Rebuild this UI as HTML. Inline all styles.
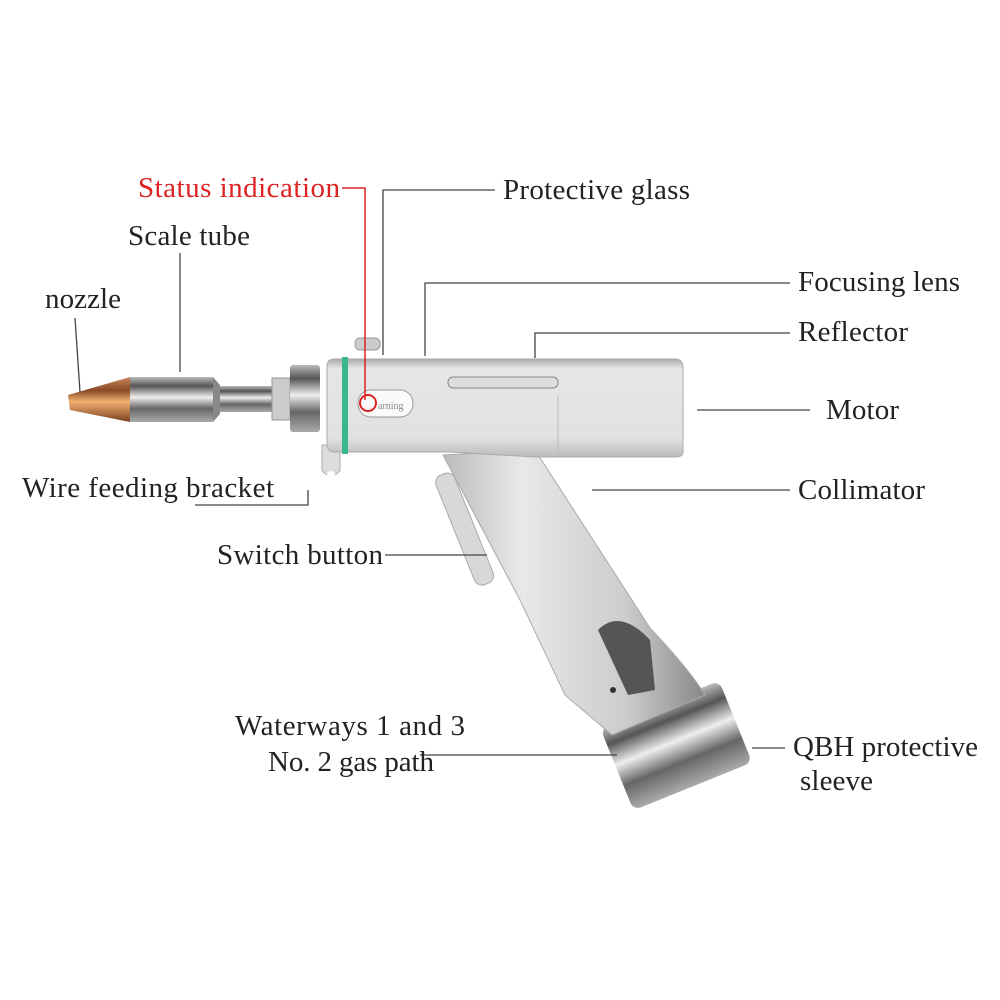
<!DOCTYPE html>
<html><head><meta charset="utf-8"><style>
body{margin:0;background:#fff;}
svg{display:block}
text{font-family:"Liberation Serif",serif;font-size:29px;fill:#222}
</style></head><body>
<svg width="1000" height="1000" viewBox="0 0 1000 1000">
<defs>
<linearGradient id="cyl" x1="0" y1="0" x2="0" y2="1">
<stop offset="0" stop-color="#bbb"/><stop offset=".2" stop-color="#555"/><stop offset=".45" stop-color="#eee"/><stop offset=".7" stop-color="#666"/><stop offset="1" stop-color="#aaa"/></linearGradient>
<linearGradient id="cu" x1="0" y1="0" x2="0" y2="1">
<stop offset="0" stop-color="#c9855a"/><stop offset=".3" stop-color="#8a4a25"/><stop offset=".55" stop-color="#f0b070"/><stop offset="1" stop-color="#7a3f20"/></linearGradient>
<linearGradient id="body" x1="0" y1="0" x2="0" y2="1">
<stop offset="0" stop-color="#aaa"/><stop offset=".1" stop-color="#e6e6e6"/><stop offset=".8" stop-color="#e2e2e2"/><stop offset="1" stop-color="#bbb"/></linearGradient>
<linearGradient id="hand" x1="0" y1="0" x2="1" y2="0">
<stop offset="0" stop-color="#bbb"/><stop offset=".3" stop-color="#e8e8e8"/><stop offset=".7" stop-color="#ccc"/><stop offset="1" stop-color="#888"/></linearGradient>
</defs>
<path d="M68,395 L130,377 L130,422 L70,410 Z" fill="url(#cu)"/>
<rect x="130" y="377" width="83" height="45" fill="url(#cyl)"/>
<path d="M213,377 L220,385 L220,414 L213,422Z" fill="#888"/>
<rect x="220" y="386" width="54" height="26" fill="url(#cyl)"/>
<rect x="272" y="378" width="18" height="42" fill="#ccc" stroke="#999"/>
<rect x="290" y="365" width="30" height="67" rx="3" fill="url(#cyl)"/>
<path d="M322,445 h18 v25 a10,10 0 0 1 -18,0Z" fill="#ddd" stroke="#aaa"/>
<circle cx="331" cy="475" r="4" fill="#fff"/>
<rect x="355" y="338" width="25" height="12" rx="5" fill="#ccc" stroke="#999"/>
<g transform="rotate(-22 675 745)">
<rect x="612" y="702" width="128" height="88" rx="8" fill="url(#cyl)"/>
</g>
<path d="M443,455 L535,450 L650,628 Q690,670 705,695 L612,735 L565,695 L520,600 Z" fill="url(#hand)" stroke="#aaa"/>
<rect x="455" y="470" width="20" height="118" rx="8" transform="rotate(-22 465 530)" fill="#d8d8d8" stroke="#aaa"/>
<path d="M598,630 Q620,608 650,640 L655,690 L628,695Z" fill="#555"/>
<circle cx="613" cy="690" r="3" fill="#333"/>
<path d="M327,366 Q327,359 335,359 L675,359 Q683,359 683,368 L683,452 Q683,457 675,457 L535,457 L450,452 L335,452 Q327,452 327,444Z" fill="url(#body)" stroke="#aaa"/>
<rect x="448" y="377" width="110" height="11" rx="5" fill="#ddd" stroke="#888"/>
<line x1="558" y1="395" x2="558" y2="452" stroke="#bbb"/>
<rect x="358" y="390" width="55" height="27" rx="13" fill="#fafafa" stroke="#999"/>
<text x="378" y="409" style="font-size:10px;fill:#888">arning</text>
<rect x="342" y="357" width="6" height="97" fill="#3ab88a"/>
<g stroke="#444" stroke-width="1.3" fill="none">
<path d="M495,190 H383 V355"/>
<path d="M180,253 V372"/>
<path d="M75,318 L80,392"/>
<path d="M790,283 H425 V356"/>
<path d="M790,333 H535 V358"/>
<path d="M697,410 H810"/>
<path d="M592,490 H790"/>
<path d="M195,505 H308 V490"/>
<path d="M385,555 H487"/>
<path d="M420,755 H617"/>
<path d="M752,748 H785"/>
</g>
<path d="M342,188 H365 V400" stroke="#d22" stroke-width="1.5" fill="none"/>
<circle cx="368" cy="403" r="8" stroke="#d22" stroke-width="2" fill="none"/>
<text x="138" y="197" textLength="202" style="fill:#d22">Status indication</text>
<text x="503" y="199" textLength="187">Protective glass</text>
<text x="128" y="245" textLength="122">Scale tube</text>
<text x="45" y="308" textLength="76">nozzle</text>
<text x="798" y="291" textLength="162">Focusing lens</text>
<text x="798" y="341" textLength="110">Reflector</text>
<text x="826" y="419" textLength="73">Motor</text>
<text x="798" y="499" textLength="127">Collimator</text>
<text x="22" y="497" textLength="252">Wire feeding bracket</text>
<text x="217" y="564" textLength="166">Switch button</text>
<text x="235" y="735" textLength="230">Waterways 1 and 3</text>
<text x="268" y="771" textLength="166">No. 2 gas path</text>
<text x="793" y="756" textLength="185">QBH protective</text>
<text x="800" y="790" textLength="73">sleeve</text>
</svg>
</body></html>
